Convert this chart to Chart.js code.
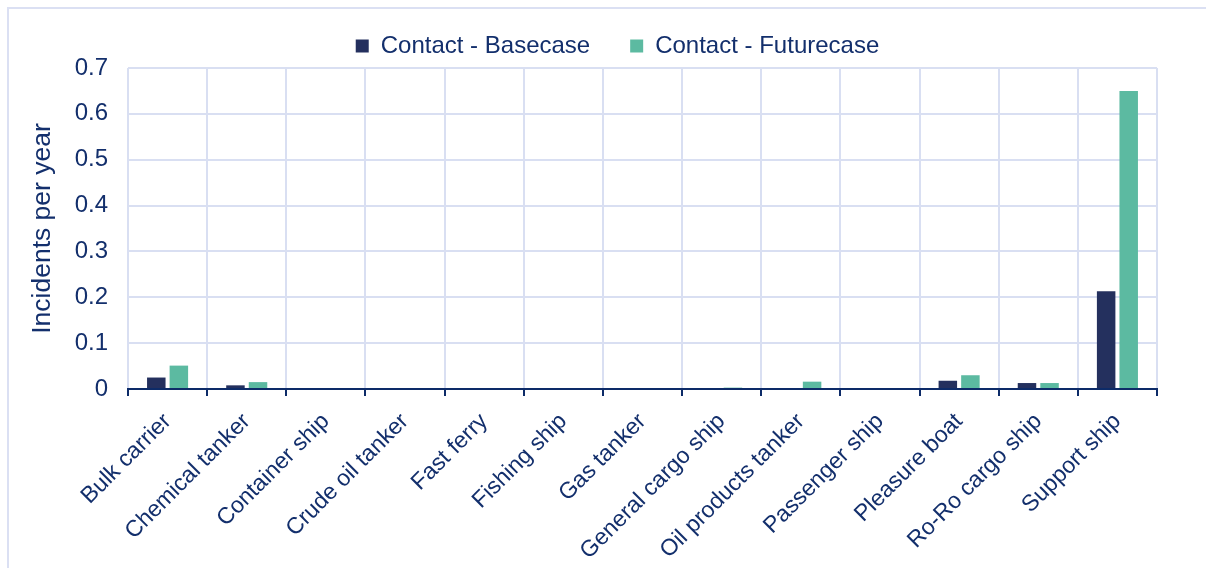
<!DOCTYPE html>
<html>
<head>
<meta charset="utf-8">
<script src="https://cdn.jsdelivr.net/npm/chart.js@4"></script>
<style>
  html, body { margin: 0; padding: 0; background: #fff; }
  #wrap { position: relative; width: 1206px; height: 568px; overflow: hidden; }
  #frame { position: absolute; left: 7px; top: 7px; width: 1300px; height: 700px;
           border: 2px solid #dbe0f3; pointer-events: none; }
  canvas { position: absolute; left: 0; top: 0; }
</style>
</head>
<body>
<div id="wrap">
  <div id="frame"></div>
  <canvas id="myChart" width="1206" height="568"></canvas>
</div>
<script>
const categories = [
  'Bulk carrier', 'Chemical tanker', 'Container ship', 'Crude oil tanker',
  'Fast ferry', 'Fishing ship', 'Gas tanker', 'General cargo ship',
  'Oil products tanker', 'Passenger ship', 'Pleasure boat', 'Ro-Ro cargo ship',
  'Support ship'
]
const basecase = [0.025, 0.008, 0, 0, 0, 0, 0, 0.002, 0, 0, 0.018, 0.013, 0.213]
const futurecase = [0.051, 0.015, 0, 0, 0, 0, 0, 0.003, 0.016, 0, 0.03, 0.013, 0.65]
const yTicks = [0, 0.1, 0.2, 0.3, 0.4, 0.5, 0.6, 0.7]

const colors = {
    text: '#132f6c',
    axis: '#0d2b68',
    grid: '#d9dff2',
    base: '#24305e',
    future: '#5cbaa1'
}
const font = 'Liberation Sans, Arial, sans-serif'

const ctx = document.getElementById('myChart')

// nudge the legend to the right, it is not centred on the plot in the original
const legendShift = {
    id: 'legendShift',
    afterLayout(chart) {
        chart.legend.left += 35
        chart.legend.right += 35
    }
}

new Chart(ctx, {
    type: 'bar',
    data: {
        labels: categories,
        datasets: [{
            label: 'Contact - Basecase',
            data: basecase,
            backgroundColor: colors.base,
            categoryPercentage: 0.57,
            barPercentage: 0.82
        }, {
            label: 'Contact - Futurecase',
            data: futurecase,
            backgroundColor: colors.future,
            categoryPercentage: 0.57,
            barPercentage: 0.82
        }]
    },
    options: {
        responsive: false,
        animation: false,
        layout: {
            padding: { left: 8, top: -6, right: 49, bottom: 0 }
        },
        scales: {
            x: {
                grid: {
                    color: colors.grid,
                    lineWidth: 2,
                    tickColor: colors.axis,
                    tickLength: 7,
                    tickWidth: 2
                },
                border: { color: colors.axis, width: 2 },
                ticks: {
                    color: colors.text,
                    font: { family: font, size: 23 },
                    minRotation: 45,
                    maxRotation: 45,
                    padding: 12
                },
                afterFit: (scale) => { scale.height = 179 }
            },
            y: {
                min: 0,
                max: 0.7,
                afterBuildTicks: (scale) => {
                    scale.ticks = yTicks.map(v => ({ value: v }))
                },
                grid: {
                    color: colors.grid,
                    lineWidth: 2,
                    drawTicks: false
                },
                border: { display: false },
                ticks: {
                    color: colors.text,
                    font: { family: font, size: 24 },
                    padding: 20,
                    callback: (v) => String(Math.round(v * 10) / 10)
                },
                title: {
                    display: true,
                    text: 'Incidents per year',
                    color: colors.text,
                    font: { family: font, size: 26.5 },
                    padding: { top: 19, bottom: 0 }
                },
                afterFit: (scale) => { scale.width = 120 }
            }
        },
        plugins: {
            legend: {
                display: true,
                labels: {
                    color: colors.text,
                    font: { family: font, size: 24 },
                    boxWidth: 13,
                    boxHeight: 13,
                    padding: 40
                }
            },
            tooltip: { enabled: false }
        }
    },
    plugins: [legendShift]
})
</script>
</body>
</html>
